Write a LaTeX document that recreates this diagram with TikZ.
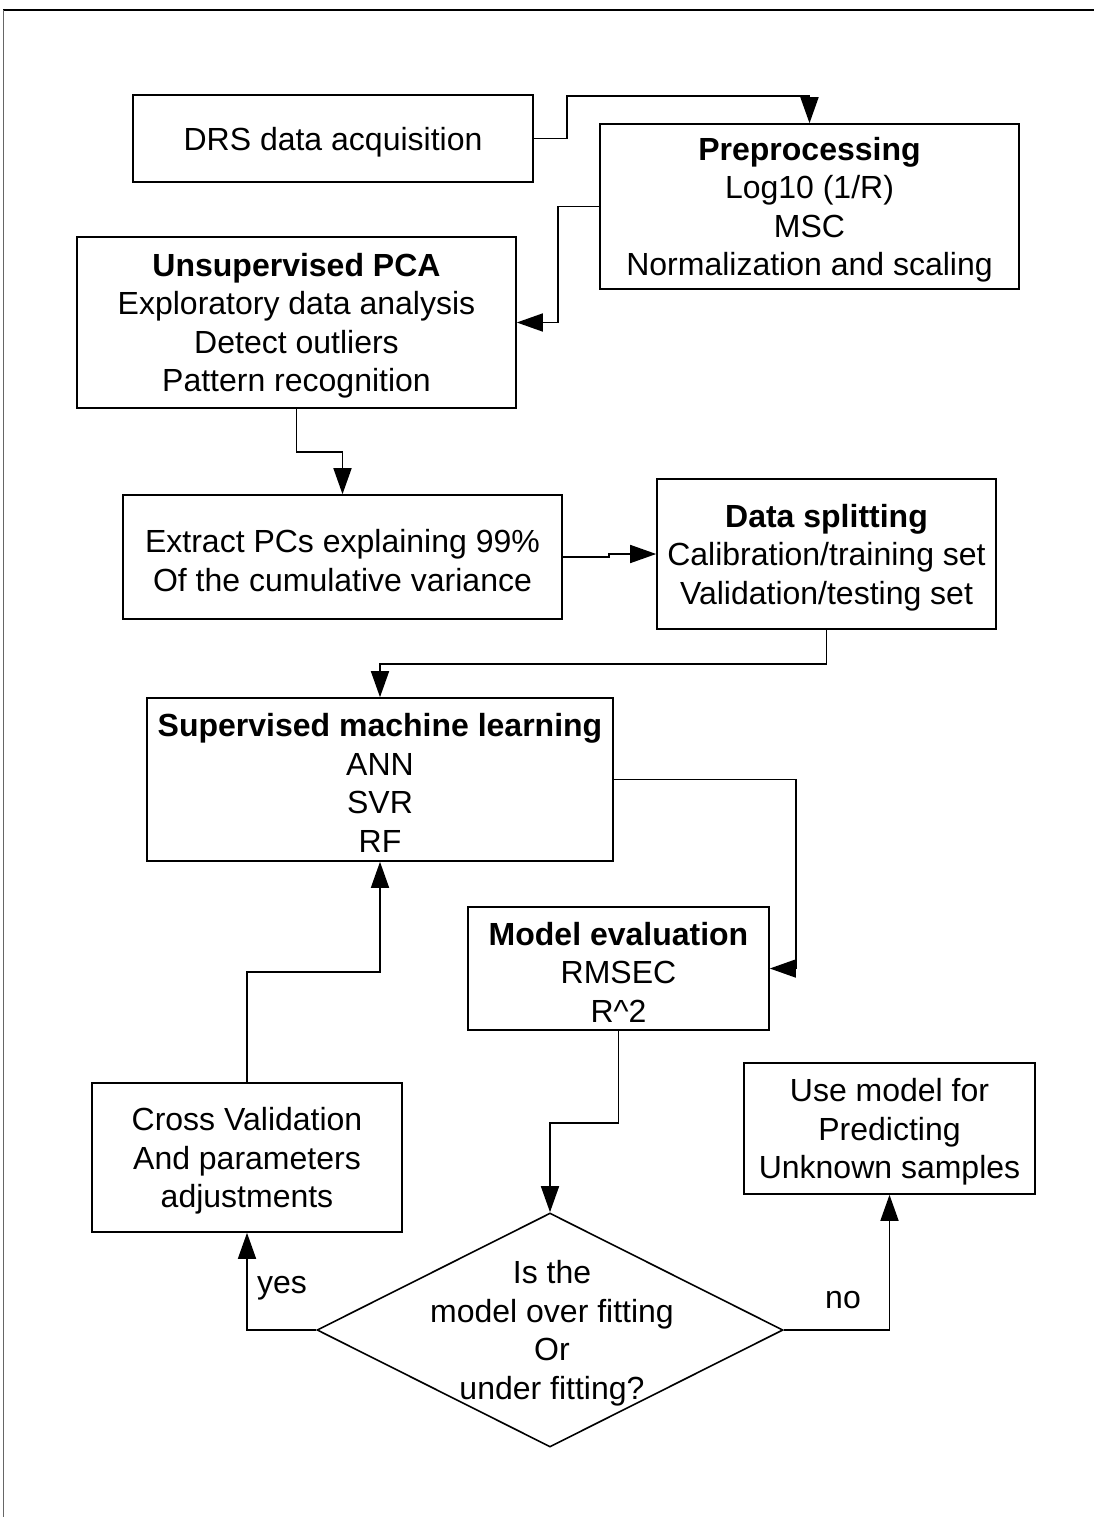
\documentclass[tikz,border=0pt]{standalone}
\usepackage{fontspec}
\setmainfont{Liberation Sans}
\usetikzlibrary{arrows.meta,shapes.geometric}
\newcommand{\topstrut}{\rule{0pt}{30pt}}
\begin{document}
\begin{tikzpicture}[x=1pt,y=-1pt,
  box/.style={draw, line width=1.6pt, inner sep=0pt, align=center, font=\fontsize{32}{38.5}\selectfont},
  conn/.style={line width=1.6pt, -{Triangle[length=26pt,width=18pt]}},
  lbl/.style={inner sep=0pt, font=\fontsize{32}{38.5}\selectfont}]
\useasboundingbox (0,0) rectangle (1094,1517);
% frame
\draw[line width=1.5pt] (3,10) -- (1094,10);
\draw[line width=1pt, black!60] (3,10) -- (3,1517);
% nodes
\node[box, minimum width=400pt, minimum height=87pt] (drs) at (333,138.5) {\topstrut DRS data acquisition};
\node[box, minimum width=419pt, minimum height=165pt] (pre) at (809.5,206.5) {\topstrut\textbf{Preprocessing}\\Log10 (1/R)\\MSC\\Normalization and scaling};
\node[box, minimum width=439pt, minimum height=171pt] (pca) at (296.5,322.5) {\topstrut\textbf{Unsupervised PCA}\\Exploratory data analysis\\Detect outliers\\Pattern recognition};
\node[box, minimum width=439pt, minimum height=124pt] (ext) at (342.5,557) {\topstrut Extract PCs explaining 99\%\\Of the cumulative variance};
\node[box, minimum width=339pt, minimum height=150pt] (split) at (826.5,554) {\topstrut\textbf{Data splitting}\\Calibration/training set\\Validation/testing set};
\node[box, minimum width=466pt, minimum height=163pt] (ml) at (380,779.5) {\topstrut\textbf{Supervised machine learning}\\ANN\\SVR\\RF};
\node[box, minimum width=301pt, minimum height=123pt] (eval) at (618.5,968.5) {\topstrut\textbf{Model evaluation}\\RMSEC\\R\textasciicircum 2};
\node[box, minimum width=310pt, minimum height=149pt] (cv) at (247,1157.5) {\topstrut Cross Validation\\And parameters\\adjustments};
\node[box, minimum width=291pt, minimum height=131pt] (use) at (889.5,1128.5) {\topstrut Use model for\\Predicting\\Unknown samples};
\node[draw, diamond, line width=1.6pt, inner sep=0pt, minimum width=466pt, minimum height=234pt] (dia) at (550,1330) {};
\node[box, draw=none] (diatext) at (552,1330) {\topstrut Is the\\model over fitting\\Or\\under fitting?};
% connectors
\draw[conn] (drs.east) -| (567,96) -| (pre.north);
\draw[conn] (pre.west) -| (558,322.5) -- (pca.east);
\draw[conn] (pca.south) |- (342.5,452) -- (ext.north);
\draw[conn] (ext.east) -| (609,554) -- (split.west);
\draw[conn] (split.south) |- (380,664) -- (ml.north);
\draw[conn] (ml.east) -| (796,968.5) -- (eval.east);
\draw[conn] (eval.south) |- (550,1123) -- (dia.north);
\draw[conn] (dia.west) -| (cv.south);
\draw[conn] (dia.east) -| (use.south);
\draw[conn] (cv.north) |- (380,972) -- (ml.south);
% labels
\node[lbl, anchor=base] (yes) at (282,1293) {yes};
\node[lbl, anchor=base] (no) at (843,1308) {no};
\end{tikzpicture}
\end{document}
